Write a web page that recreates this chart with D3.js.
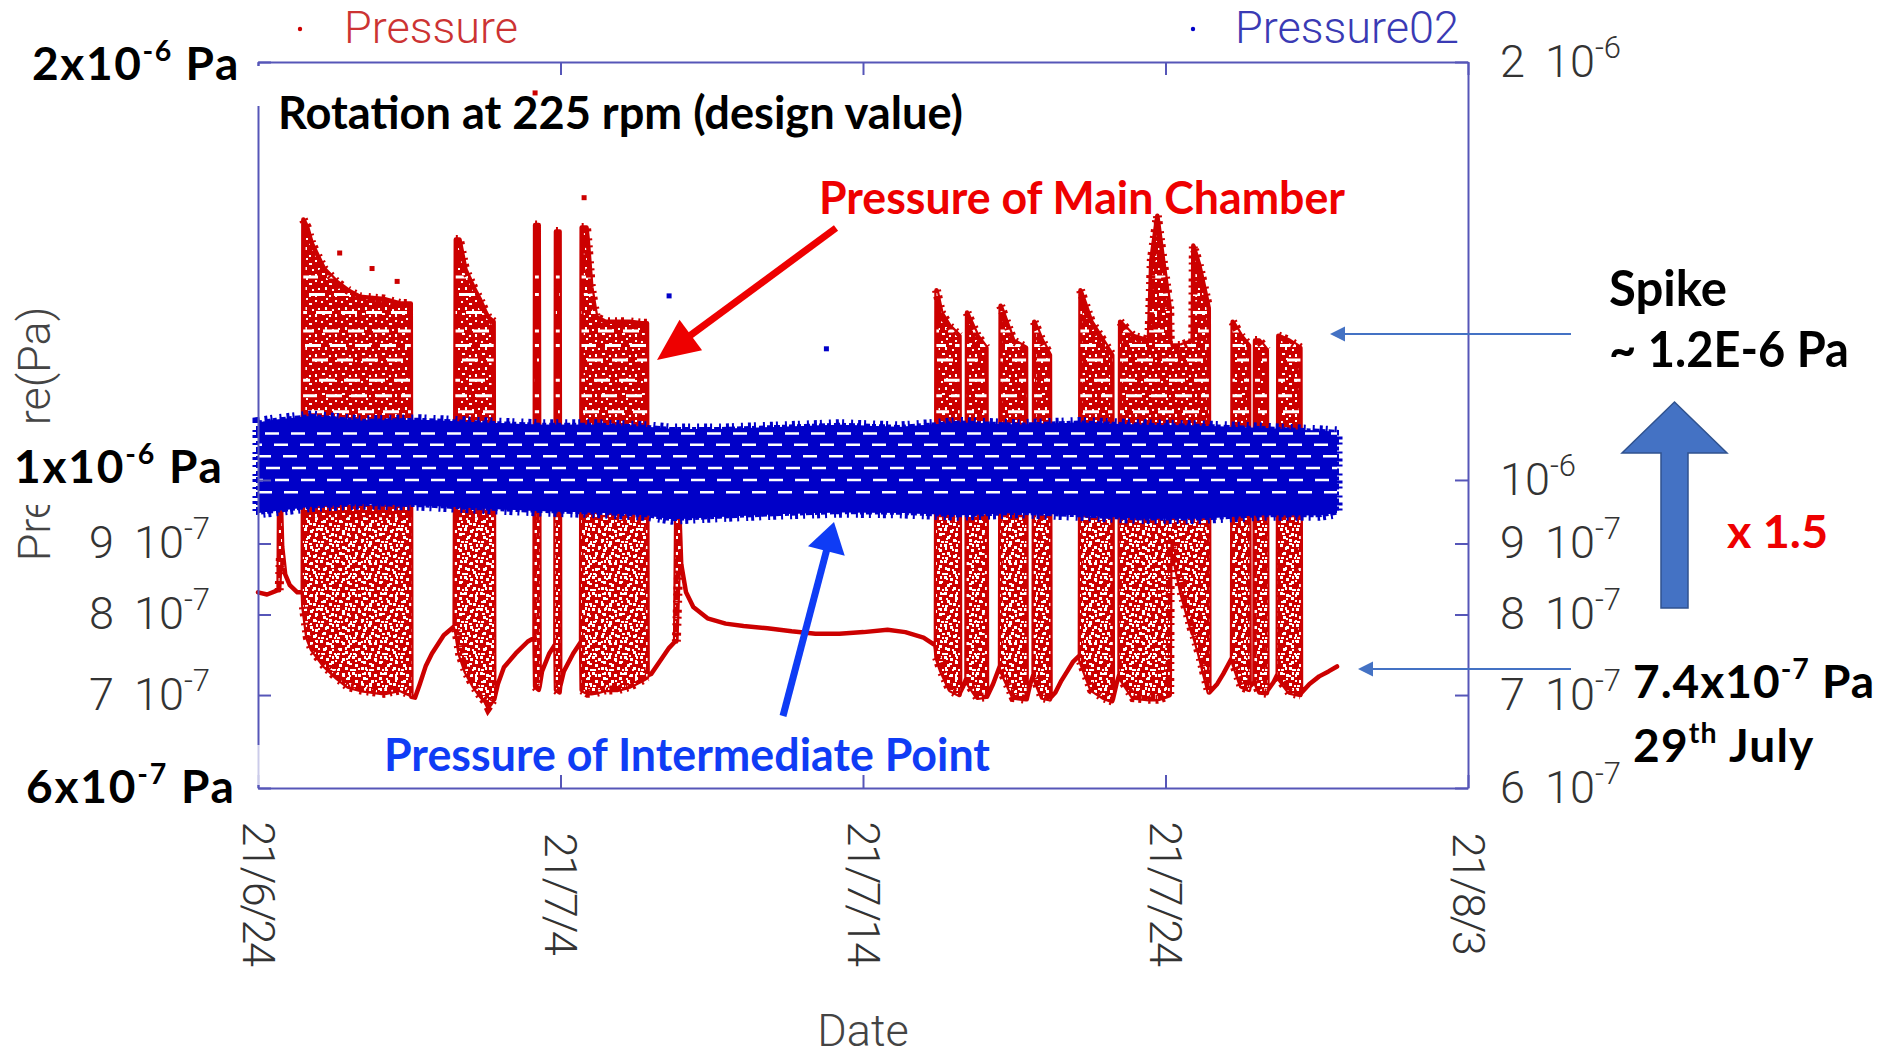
<!DOCTYPE html>
<html>
<head>
<meta charset="utf-8">
<script src="https://cdn.jsdelivr.net/npm/d3@7"></script>
<style>
  body { margin: 0; background: #fff; }
  svg { display: block; }
</style>
</head>
<body>
<svg id="svg" width="1880" height="1059"></svg>
<script>
// values are in units of 1e-7 Pa, time in days after 2021-06-24
var UNIT = 1e-7;
var baseDate = new Date(2021, 5, 24);
var endDate = new Date(2021, 7, 3);

var dateTickDays = [0, 10, 20, 30, 40];
var dateLabels = ["21/6/24", "21/7/4", "21/7/14", "21/7/24", "21/8/3"];
var pressureTicks = [6, 7, 8, 9, 10, 20];
var tickMantissa = ["6", "7", "8", "9", "", "2"];
var tickExponent = ["-7", "-7", "-7", "-7", "-6", "-6"];
// the slide covers these left-hand labels with its own text
var leftHidden = [6, 10, 20];

// Pressure (main chamber) envelope
var redDay = [
  0.00, 0.30, 0.60, 0.68, 0.70, 0.74, 0.80, 0.90, 1.05, 1.30, 1.48,
  1.50, 1.63, 1.78, 1.98, 2.18, 2.58, 2.97, 3.37, 4.16, 4.70, 5.05,
  5.07, 5.19, 5.35, 5.55, 5.75, 6.14, 6.50,
  6.54, 6.66, 6.86, 7.13, 7.33, 7.53, 7.61, 7.79,
  7.81, 7.93, 8.13, 8.52, 8.92, 9.14,
  9.16, 9.28,
  9.31, 9.39, 9.63, 9.83,
  9.85, 9.97,
  9.99, 10.11, 10.42, 10.68,
  10.70, 10.86, 10.90, 11.02, 11.18, 11.49, 11.89, 12.29, 12.68, 12.86,
  12.88, 13.00, 13.28, 13.59, 13.79,
  13.83, 13.91,
  13.99, 14.15, 14.39, 14.86, 15.46, 16.05, 16.84, 17.64, 18.43, 19.22, 20.02, 20.81, 21.40, 22.00, 22.39, 22.41,
  22.43, 22.59, 22.87, 23.19,
  23.21, 23.31, 23.42,
  23.44, 23.78, 24.08,
  24.10, 24.30, 24.53,
  24.55, 24.97, 25.39,
  25.41, 25.53, 25.64,
  25.66, 25.92, 26.18,
  26.20, 26.36, 26.56, 26.75, 26.95, 27.17,
  27.19, 27.55, 27.94, 28.24,
  28.26, 28.38, 28.48,
  28.50, 28.93, 29.45, 29.53, 29.73, 29.92, 30.14,
  30.16, 30.52, 30.90,
  30.92, 31.11, 31.43,
  31.45, 31.71, 31.91, 32.20,
  32.22, 32.50, 32.76,
  32.78, 32.94,
  32.96, 33.10, 33.35,
  33.37, 33.57, 33.71,
  33.73, 34.09, 34.46,
  34.48, 34.76, 35.08, 35.39, 35.67
];
var redLow = [
  8.30, 8.27, 8.32, 8.33, 8.33, 8.80, 8.75, 8.55, 8.40, 8.30, 8.30,
  8.10, 7.70, 7.55, 7.45, 7.35, 7.21, 7.10, 7.06, 7.02, 7.06, 7.00,
  6.98, 6.97, 7.13, 7.35, 7.50, 7.73, 7.85,
  7.80, 7.50, 7.28, 7.10, 7.00, 6.92, 6.86, 6.95,
  6.95, 7.13, 7.33, 7.50, 7.65, 7.70,
  7.10, 7.06,
  7.10, 7.28, 7.50, 7.62,
  7.06, 7.03,
  7.10, 7.28, 7.50, 7.65,
  7.06, 7.03, 7.02, 7.02, 7.03, 7.06, 7.06, 7.10, 7.17, 7.21,
  7.23, 7.25, 7.40, 7.57, 7.65,
  7.65, 8.70,
  8.70, 8.30, 8.10, 7.95, 7.88, 7.85, 7.82, 7.78, 7.75, 7.75, 7.77, 7.80, 7.77, 7.70, 7.60, 7.55,
  7.45, 7.28, 7.06, 7.00,
  7.03, 7.10, 7.20,
  7.15, 6.97, 6.98,
  6.98, 7.13, 7.35,
  7.30, 6.97, 6.95,
  6.95, 7.13, 7.25,
  7.20, 6.97, 6.95,
  6.97, 7.03, 7.17, 7.28, 7.40, 7.48,
  7.40, 7.06, 6.97, 6.93,
  6.95, 7.13, 7.25,
  7.20, 6.97, 6.95, 6.95, 6.95, 6.97, 7.00,
  9.05, 8.30, 7.75,
  7.75, 7.50, 7.03,
  7.03, 7.13, 7.25, 7.45,
  7.40, 7.10, 7.06,
  7.10, 7.15,
  7.15, 7.03, 7.02,
  7.05, 7.15, 7.25,
  7.20, 7.03, 7.00,
  7.02, 7.13, 7.22, 7.28, 7.34
];
var redHigh = [
  8.30, 8.27, 8.32, 8.33, 9.95, 9.95, 8.95, 8.55, 8.40, 8.30, 8.30,
  15.4, 15.2, 14.8, 14.5, 14.2, 13.9, 13.7, 13.55, 13.5, 13.4, 13.4,
  6.98, 6.97, 7.13, 7.35, 7.50, 7.73, 7.85,
  14.9, 14.9, 14.17, 13.76, 13.5, 13.2, 13.1, 13.0,
  6.95, 7.13, 7.33, 7.50, 7.65, 7.70,
  15.26, 15.26,
  7.10, 7.28, 7.50, 7.62,
  15.1, 15.1,
  7.10, 7.28, 7.50, 7.65,
  15.2, 15.2, 14.9, 13.76, 13.1, 13.0, 13.0, 13.0, 12.97, 12.97,
  7.23, 7.25, 7.40, 7.57, 7.65,
  9.75, 9.75,
  8.70, 8.30, 8.10, 7.95, 7.88, 7.85, 7.82, 7.78, 7.75, 7.75, 7.77, 7.80, 7.77, 7.70, 7.60, 7.55,
  13.7, 13.2, 12.9, 12.7,
  7.03, 7.10, 7.20,
  13.2, 12.7, 12.45,
  6.98, 7.13, 7.35,
  13.35, 12.6, 12.45,
  6.95, 7.13, 7.25,
  13.0, 12.6, 12.3,
  6.97, 7.03, 7.17, 7.28, 7.40, 7.48,
  13.7, 13.0, 12.6, 12.3,
  6.95, 7.13, 7.25,
  13.0, 12.7, 12.6, 14.4, 15.5, 14.4, 13.3,
  12.5, 12.5, 12.6,
  14.75, 14.3, 13.3,
  7.03, 7.13, 7.25, 7.45,
  13.0, 12.7, 12.5,
  7.10, 7.15,
  12.6, 12.6, 12.4,
  7.05, 7.15, 7.25,
  12.7, 12.6, 12.45,
  7.02, 7.13, 7.22, 7.28, 7.34
];
var redDotDay = [9.16, 10.78, 2.70, 3.77, 4.60];
var redDotValue = [19.0, 15.97, 14.57, 14.2, 13.9];
var redGapLevels = [11.2, 11.5, 11.8, 12.2, 12.5, 12.8, 13.2, 13.6, 14.0];

// Pressure02 (intermediate point) band
var blueDay = [0, 0.59, 1.78, 3.37, 5.35, 7.33, 9.31, 11.30, 12.88, 13.67, 15.26, 17.24, 19.22, 21.20, 23.19, 25.17, 27.15, 29.13, 31.11, 33.10, 35.08, 35.67];
var blueLow = [9.47, 9.50, 9.57, 9.61, 9.59, 9.54, 9.50, 9.47, 9.43, 9.37, 9.41, 9.45, 9.48, 9.47, 9.43, 9.47, 9.43, 9.38, 9.38, 9.43, 9.43, 9.47];
var blueHigh = [11.0, 11.05, 11.12, 11.03, 11.05, 11.0, 10.96, 10.96, 10.92, 10.88, 10.88, 10.92, 10.96, 10.92, 11.0, 10.96, 11.0, 10.96, 10.94, 10.9, 10.85, 10.83];
var blueDotDay = [13.59, 18.79];
var blueDotValue = [13.57, 12.43];
var blueGapLevels = [9.8, 10.0, 10.2, 10.4, 10.6, 10.8];

var RED = "#cc0000";
var BLUE = "#0000c8";
var AXIS = "#5656b8";
var LIGHT_FONT = "Roboto, 'Liberation Sans', sans-serif";
var BOLD_FONT = "Lato, 'Open Sans', sans-serif";

var frame = { left: 258, right: 1468, top: 62, bottom: 788 };

var svg = d3.select("svg");
svg.append("rect").attr("width", 1880).attr("height", 1059).attr("fill", "#fff");

function dayDate(d) { return new Date(baseDate.getTime() + d * 864e5); }

var x = d3.scaleTime().domain([baseDate, endDate]).range([frame.left, frame.right]);
var y = d3.scaleLog().domain([6 * UNIT, 20 * UNIT]).range([frame.bottom, frame.top]);

function rows(days, lo, hi) {
    return days.map(function (d, i) { return { t: dayDate(d), lo: lo[i] * UNIT, hi: hi[i] * UNIT }; });
}
var redRows = rows(redDay, redLow, redHigh);
var blueRows = rows(blueDay, blueLow, blueHigh);

var area = d3.area()
    .x(function (d) { return x(d.t); })
    .y0(function (d) { return y(d.lo); })
    .y1(function (d) { return y(d.hi); });

function burst(d) { return d.hi > d.lo * 1.03; }
var topEdge = d3.line().defined(burst)
    .x(function (d) { return x(d.t); })
    .y(function (d) { return y(d.hi); });
var lowEdge = d3.line().defined(burst)
    .x(function (d) { return x(d.t); })
    .y(function (d) { return y(d.lo); });

var defs = svg.append("defs");
var pat = defs.append("pattern").attr("id", "redTex")
    .attr("patternUnits", "userSpaceOnUse").attr("width", 20).attr("height", 20);
pat.append("rect").attr("width", 20).attr("height", 20).attr("fill", RED);
[[1, 1, 2, 2], [9, 3, 3, 2], [15, 0, 2, 2], [5, 7, 2, 3], [12, 9, 2, 2], [18, 8, 2, 2],
 [2, 13, 3, 2], [9, 15, 2, 2], [15, 14, 2, 3], [6, 18, 2, 2]].forEach(function (p) {
    pat.append("rect").attr("x", p[0]).attr("y", p[1]).attr("width", p[2]).attr("height", p[3]).attr("fill", "#fff");
});
var speck = defs.append("pattern").attr("id", "speckle")
    .attr("patternUnits", "userSpaceOnUse").attr("width", 16).attr("height", 16);
[[0, 0, 3, 3], [6, 2, 3, 3], [11, 5, 3, 3], [3, 8, 3, 3], [9, 11, 3, 3], [14, 13, 2, 2], [1, 13, 3, 2], [12, 0, 2, 3]]
    .forEach(function (p) {
        speck.append("rect").attr("x", p[0]).attr("y", p[1]).attr("width", p[2]).attr("height", p[3]).attr("fill", "#fff");
    });
defs.append("clipPath").attr("id", "redClip").append("path").attr("d", area(redRows));
defs.append("clipPath").attr("id", "blueClip").append("path").attr("d", area(blueRows));

var plot = svg.append("g");

// red series
plot.append("path")
    .attr("d", area(redRows))
    .attr("fill", "url(#redTex)")
    .attr("stroke", RED)
    .attr("stroke-width", 4.5)
    .attr("stroke-linejoin", "round");

plot.append("rect")
    .attr("clip-path", "url(#redClip)")
    .attr("x", frame.left).attr("width", frame.right - frame.left)
    .attr("y", y(9.4 * UNIT)).attr("height", frame.bottom - y(9.4 * UNIT) - 30)
    .attr("fill", "url(#speckle)");

plot.append("g").attr("clip-path", "url(#redClip)")
    .selectAll("line").data(redGapLevels).enter().append("line")
    .attr("x1", frame.left).attr("x2", frame.right)
    .attr("y1", function (d) { return y(d * UNIT); })
    .attr("y2", function (d) { return y(d * UNIT); })
    .attr("stroke", "#fff").attr("stroke-width", 3)
    .attr("stroke-dasharray", "16 9")
    .attr("stroke-dashoffset", function (d, i) { return i * 7; });

[topEdge, lowEdge].forEach(function (edge) {
    plot.append("path")
        .attr("d", edge(redRows))
        .attr("fill", "none").attr("stroke", RED)
        .attr("stroke-width", 9)
        .attr("stroke-dasharray", "2 4 3 7 2 5");
});

plot.selectAll(".rdot").data(redDotDay).enter().append("rect")
    .attr("x", function (d) { return x(dayDate(d)) - 2.5; })
    .attr("y", function (d, i) { return y(redDotValue[i] * UNIT) - 2.5; })
    .attr("width", 5).attr("height", 5).attr("fill", RED);

// blue series
plot.append("path")
    .attr("d", area(blueRows))
    .attr("fill", BLUE)
    .attr("stroke", BLUE)
    .attr("stroke-width", 11)
    .attr("stroke-dasharray", "2 5 3 3 2 7");
plot.append("path")
    .attr("d", area(blueRows))
    .attr("fill", BLUE)
    .attr("stroke", BLUE)
    .attr("stroke-width", 4)
    .attr("stroke-dasharray", "4 3 6 2");

plot.append("g").attr("clip-path", "url(#blueClip)")
    .selectAll("line").data(blueGapLevels).enter().append("line")
    .attr("x1", frame.left).attr("x2", frame.right)
    .attr("y1", function (d) { return y(d * UNIT); })
    .attr("y2", function (d) { return y(d * UNIT); })
    .attr("stroke", "#fff").attr("stroke-width", 2.5)
    .attr("stroke-dasharray", "14 12")
    .attr("stroke-dashoffset", function (d, i) { return i * 9; });

plot.selectAll(".bdot").data(blueDotDay).enter().append("rect")
    .attr("x", function (d) { return x(dayDate(d)) - 2.5; })
    .attr("y", function (d, i) { return y(blueDotValue[i] * UNIT) - 2.5; })
    .attr("width", 5).attr("height", 5).attr("fill", BLUE);

// axes
var tickDates = dateTickDays.map(dayDate);
var tickPa = pressureTicks.map(function (v) { return v * UNIT; });

function styleAxis(g) {
    g.attr("color", AXIS).attr("font-family", LIGHT_FONT).attr("font-size", 45).attr("font-weight", 300);
    g.selectAll("path, line").attr("stroke-width", 2);
    g.selectAll("text").attr("fill", "#333");
}

function pressureLabel(skip) {
    return function (sel) {
        sel.each(function (d) {
            var i = tickPa.indexOf(d);
            var t = d3.select(this).text(null);
            if (skip.indexOf(pressureTicks[i]) >= 0) return;
            if (tickMantissa[i]) t.append("tspan").text(tickMantissa[i]);
            t.append("tspan").attr("dx", tickMantissa[i] ? 20 : 0).text("10");
            t.append("tspan").attr("dy", -19).attr("font-size", 31).text(tickExponent[i]);
        });
    };
}

var yLeft = svg.append("g").attr("transform", "translate(" + frame.left + ",0)")
    .call(d3.axisLeft(y).tickValues(tickPa).tickSizeInner(-13).tickSizeOuter(0).tickPadding(48).tickFormat(""));
styleAxis(yLeft);
yLeft.selectAll(".tick text").call(pressureLabel(leftHidden));

var yRight = svg.append("g").attr("transform", "translate(" + frame.right + ",0)")
    .call(d3.axisRight(y).tickValues(tickPa).tickSizeInner(-13).tickSizeOuter(0).tickPadding(32).tickFormat(""));
styleAxis(yRight);
yRight.selectAll(".tick text").call(pressureLabel([]));

var xTop = svg.append("g").attr("transform", "translate(0," + frame.top + ")")
    .call(d3.axisTop(x).tickValues(tickDates).tickSizeInner(-13).tickSizeOuter(0).tickFormat(""));
styleAxis(xTop);

var xBottom = svg.append("g").attr("transform", "translate(0," + frame.bottom + ")")
    .call(d3.axisBottom(x).tickValues(tickDates).tickSizeInner(-13).tickSizeOuter(0).tickFormat(""));
styleAxis(xBottom);
xBottom.selectAll(".tick text")
    .text(function (d, i) { return dateLabels[i]; })
    .attr("x", 0).attr("y", 0).attr("dy", "0.35em")
    .attr("text-anchor", "middle")
    .attr("letter-spacing", -2.5)
    .attr("transform", "translate(0,105) rotate(90)");

// axis titles
svg.append("text")
    .attr("transform", "translate(34,434) rotate(-90)")
    .attr("dy", "0.35em").attr("text-anchor", "middle")
    .attr("font-family", LIGHT_FONT).attr("font-weight", 300).attr("font-size", 45).attr("fill", "#444")
    .text("Pressure(Pa)");
svg.append("text")
    .attr("x", (frame.left + frame.right) / 2).attr("y", 1046).attr("text-anchor", "middle")
    .attr("font-family", LIGHT_FONT).attr("font-weight", 300).attr("font-size", 45).attr("fill", "#444")
    .text("Date");

// legend
svg.append("circle").attr("cx", 300).attr("cy", 29).attr("r", 2.2).attr("fill", RED);
svg.append("text").attr("x", 344).attr("y", 43)
    .attr("font-family", LIGHT_FONT).attr("font-weight", 300).attr("font-size", 45).attr("fill", "#cc3333")
    .text("Pressure");
svg.append("circle").attr("cx", 1193).attr("cy", 29).attr("r", 2.2).attr("fill", BLUE);
svg.append("text").attr("x", 1235).attr("y", 43)
    .attr("font-family", LIGHT_FONT).attr("font-weight", 300).attr("font-size", 45).attr("fill", "#3a3ab4")
    .text("Pressure02");

// slide annotations
function box(x0, y0, w, h, op) {
    svg.append("rect").attr("x", x0).attr("y", y0).attr("width", w).attr("height", h)
        .attr("fill", "#fff").attr("opacity", op || 1);
}
box(8, 425, 232, 80);
box(251, 66, 14, 40);
box(251, 745, 14, 40, 0.7);

function rich(xp, yp, parts, size, color, len, spacing) {
    var t = svg.append("text").attr("x", xp).attr("y", yp)
        .attr("font-family", BOLD_FONT).attr("font-weight", 700)
        .attr("font-size", size).attr("fill", color);
    if (len) t.attr("textLength", len).attr("lengthAdjust", "spacingAndGlyphs");
    if (spacing) t.attr("letter-spacing", spacing);
    var up = false;
    parts.forEach(function (p) {
        var s = t.append("tspan").text(p[0]);
        if (p[1]) {
            s.attr("dy", -size * 0.42).attr("font-size", size * 0.62);
            up = true;
        } else if (up) {
            s.attr("dy", size * 0.42);
            up = false;
        }
    });
    return t;
}

rich(32, 80, [["2x10"], ["-6", 1], [" Pa"]], 46, "#000", null, 1.6);
rich(14, 483, [["1x10"], ["-6", 1], [" Pa"]], 46, "#000", null, 1.8);
rich(26, 803, [["6x10"], ["-7", 1], [" Pa"]], 46, "#000", null, 1.8);
rich(278, 129, [["Rotation at 225 rpm (design value)"]], 45, "#000", 685);
rich(819, 214, [["Pressure of Main Chamber"]], 46, "#ee0000", 526);
rich(384, 771, [["Pressure of Intermediate Point"]], 46, "#0f3cf5", 606);
rich(1609, 306, [["Spike"]], 50, "#000", 118);
rich(1609, 367, [["~ 1.2E-6 Pa"]], 50, "#000", 240);
rich(1727, 548, [["x 1.5"]], 46, "#ee0000", 101);
rich(1633, 698, [["7.4x10"], ["-7", 1], [" Pa"]], 46, "#000", null, 1);
rich(1633, 762, [["29"], ["th", 1], [" July"]], 46, "#000", null, 1.2);

function arrow(x1, y1, x2, y2, w, hl, hw, color) {
    var dx = x2 - x1, dy = y2 - y1, L = Math.sqrt(dx * dx + dy * dy);
    var ux = dx / L, uy = dy / L, bx = x2 - ux * hl, by = y2 - uy * hl;
    var nx = -uy * hw / 2, ny = ux * hw / 2;
    svg.append("line").attr("x1", x1).attr("y1", y1).attr("x2", bx + ux).attr("y2", by + uy)
        .attr("stroke", color).attr("stroke-width", w);
    svg.append("polygon")
        .attr("points", [[x2, y2], [bx + nx, by + ny], [bx - nx, by - ny]].map(function (p) { return p.join(","); }).join(" "))
        .attr("fill", color);
}
arrow(836, 228, 657, 360, 7, 42, 38, "#ee0000");
arrow(783, 716, 834, 522, 7, 30, 38, "#0f3cf5");
arrow(1571, 334, 1330, 334, 2, 15, 15, "#4472c4");
arrow(1571, 669, 1358, 669, 2, 15, 15, "#4472c4");

svg.append("polygon")
    .attr("points", "1674.5,402 1727,453 1688,453 1688,608 1661,608 1661,453 1622,453")
    .attr("fill", "#4472c4").attr("stroke", "#2f528f").attr("stroke-width", 1.5);
</script>
</body>
</html>
